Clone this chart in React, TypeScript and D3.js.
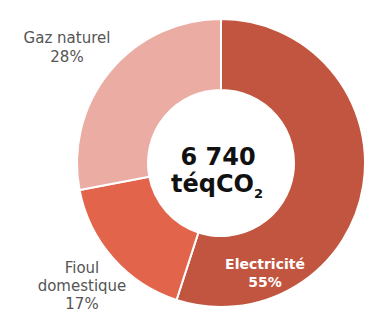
import { useEffect, useRef } from "react";
import * as d3 from "d3";

const categories = ["Electricité", "Fioul domestique", "Gaz naturel"];
const shares = [55, 17, 28];
const colors = ["#c2553f", "#e2644b", "#eaaca3"];
// label lines per slice
const labelLines = [["Electricité", "55%"], ["Fioul", "domestique", "17%"], ["Gaz naturel", "28%"]];
const totalLines = ["6 740", "téqCO"];

export default function App() {
  const svgRef = useRef<SVGSVGElement | null>(null);

  useEffect(() => {
    const width = 368;
    const height = 309;
    const cx = 221;
    const cy = 163;
    const outer = 144;
    const inner = 73;

    const svg = d3.select(svgRef.current).attr("width", width).attr("height", height);
    svg.selectAll("*").remove();

    const pie = d3
      .pie<number>()
      .sort(null)
      .value((d) => d);
    const arcs = pie(shares);

    const arc = d3.arc<d3.PieArcDatum<number>>().innerRadius(inner).outerRadius(outer);

    const g = svg.append("g").attr("transform", `translate(${cx},${cy})`);

    g.selectAll("path")
      .data(arcs)
      .join("path")
      .attr("d", arc)
      .attr("fill", (_, i) => colors[i])
      .attr("stroke", "#fff")
      .attr("stroke-width", 2);

    // outer labels (Fioul, Gaz) sit on a bigger arc, Electricité inside the ring
    const labelArc = d3.arc<d3.PieArcDatum<number>>().innerRadius(196).outerRadius(196);
    const labelPos: [number, number][] = arcs.map((a, i) => {
      if (i === 0) return [44, 115];
      const [x, y] = labelArc.centroid(a);
      return i === 1 ? [x + 8, y - 2] : [x - 3, y + 14];
    });

    arcs.forEach((a, i) => {
      const lines = labelLines[i];
      const isIn = i === 0;
      const lh = isIn ? 18 : i === 1 ? 18 : 19;
      const t = g
        .append("text")
        .attr("text-anchor", "middle")
        .attr("font-family", "DejaVu Sans, Verdana, sans-serif")
        .attr("font-size", isIn ? 14 : 15)
        .attr("font-weight", isIn ? "bold" : "normal")
        .attr("fill", isIn ? "#fff" : "#555");
      lines.forEach((l, j) => {
        t.append("tspan")
          .attr("x", labelPos[i][0])
          .attr("y", labelPos[i][1] + (j - (lines.length - 1) / 2) * lh)
          .text(l);
      });
    });

    const c = g
      .append("text")
      .attr("text-anchor", "middle")
      .attr("font-family", "DejaVu Sans, Verdana, sans-serif")
      .attr("font-weight", "bold")
      .attr("font-size", 24)
      .attr("fill", "#111");
    c.append("tspan").attr("x", -3).attr("y", 2).text(totalLines[0]);
    c.append("tspan").attr("x", -4).attr("y", 29).text(totalLines[1]);
    c.append("tspan").attr("font-size", 13).attr("dy", 6).text("2");
  }, []);

  return (
    <div style={{ position: "fixed", left: 0, top: 0, background: "#fff" }}>
      <svg ref={svgRef} style={{ display: "block" }}></svg>
    </div>
  );
}
